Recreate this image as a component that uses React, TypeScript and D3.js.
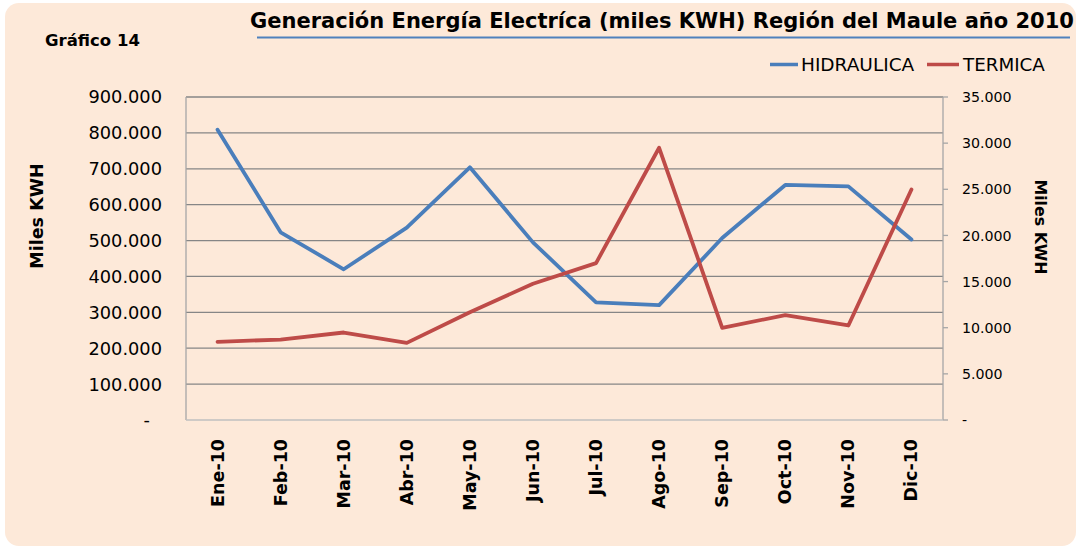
import React from "react";
import * as d3 from "d3";

const months = ["Ene-10","Feb-10","Mar-10","Abr-10","May-10","Jun-10","Jul-10","Ago-10","Sep-10","Oct-10","Nov-10","Dic-10"];
const hidraulica = [809000, 523000, 420000, 536000, 704000, 495000, 328000, 320000, 507000, 655000, 651000, 503000];
const termica = [8470, 8720, 9480, 8360, 11680, 14760, 17000, 29500, 9990, 11360, 10240, 24980];
const leftTicks = [0, 100000, 200000, 300000, 400000, 500000, 600000, 700000, 800000, 900000];
const rightTicks = [0, 5000, 10000, 15000, 20000, 25000, 30000, 35000];
const seriesNames = ["HIDRAULICA", "TERMICA"];
const colors = ["#4A7EBB", "#BE4B48"];

const W = 1081, H = 548;
const M = { left: 186, right: 943, top: 97, bottom: 420 };
const FONT = "'DejaVu Sans', Verdana, sans-serif";

const fmt = (v: number) => (v === 0 ? "-" : d3.format(",")(v).replace(/,/g, "."));

export default function App() {
  const x = d3.scaleBand<string>().domain(months).range([M.left, M.right]);
  const yL = d3.scaleLinear().domain([0, 900000]).range([M.bottom, M.top]);
  const yR = d3.scaleLinear().domain([0, 35000]).range([M.bottom, M.top]);
  const cx = (m: string) => (x(m) as number) + x.bandwidth() / 2;
  const lineL = d3.line<number>().x((_, i) => cx(months[i])).y((d) => yL(d));
  const lineR = d3.line<number>().x((_, i) => cx(months[i])).y((d) => yR(d));

  return (
    <svg width={W} height={H} style={{ position: "absolute", left: 0, top: 0 }} fontFamily={FONT}>
      <rect x={5} y={3} width={1071} height={543} rx={14} fill="#FDE9D9" />
      {/* title */}
      <text x={250} y={28} fontSize={21} fontWeight="bold" fill="#000">
        Generación Energía Electríca (miles KWH) Región del Maule año 2010
      </text>
      <line x1={257} x2={1070} y1={37.5} y2={37.5} stroke="#4F81BD" strokeWidth={2} />
      <text x={45} y={46} fontSize={16.5} fontWeight="bold" fill="#000">Gráfico 14</text>

      {/* legend */}
      <line x1={770} x2={798} y1={64.5} y2={64.5} stroke={colors[0]} strokeWidth={3.5} />
      <text x={801} y={71} fontSize={18.5} fill="#000">{seriesNames[0]}</text>
      <line x1={927} x2={959} y1={64.5} y2={64.5} stroke={colors[1]} strokeWidth={3.5} />
      <text x={963} y={71} fontSize={18.3} fill="#000">{seriesNames[1]}</text>

      {/* gridlines */}
      {leftTicks.filter((t) => t > 0).map((t) => (
        <line key={t} x1={M.left} x2={M.right} y1={yL(t)} y2={yL(t)} stroke="#868686" strokeWidth={1.3} />
      ))}
      {/* axes */}
      <line x1={M.left} x2={M.left} y1={M.top} y2={M.bottom} stroke="#A6A6A6" strokeWidth={1.3} />
      <line x1={M.right} x2={M.right} y1={M.top} y2={M.bottom} stroke="#A6A6A6" strokeWidth={1.3} />
      <line x1={M.left} x2={M.right} y1={M.bottom} y2={M.bottom} stroke="#BFBFBF" strokeWidth={1.3} />
      {rightTicks.map((t) => (
        <line key={t} x1={M.right} x2={M.right + 5} y1={yR(t)} y2={yR(t)} stroke="#A6A6A6" strokeWidth={1.3} />
      ))}

      {/* left tick labels */}
      {leftTicks.map((t) => (
        <text key={t} x={t === 0 ? 150 : 162} y={yL(t)} dy="0.36em" textAnchor="end" fontSize={17.8} fill="#000">
          {fmt(t)}
        </text>
      ))}
      {/* right tick labels */}
      {rightTicks.map((t) => (
        <text key={t} x={962} y={yR(t)} dy="0.36em" textAnchor="start" fontSize={14.2} fill="#000">
          {fmt(t)}
        </text>
      ))}

      {/* axis titles */}
      <text transform={`translate(37,216) rotate(-90)`} textAnchor="middle" dominantBaseline="central" fontSize={17.5} fontWeight="bold" fill="#000">
        Miles KWH
      </text>
      <text transform={`translate(1040,227) rotate(90)`} textAnchor="middle" dominantBaseline="central" fontSize={15.8} fontWeight="bold" fill="#000">
        Miles KWH
      </text>

      {/* x labels */}
      {months.map((m) => (
        <text key={m} transform={`translate(${cx(m)},439) rotate(-90)`} textAnchor="end" dominantBaseline="central" fontSize={17.5} fontWeight="bold" fill="#000">
          {m}
        </text>
      ))}

      {/* lines */}
      <path d={lineL(hidraulica) as string} fill="none" stroke={colors[0]} strokeWidth={3.8} strokeLinejoin="round" strokeLinecap="round" />
      <path d={lineR(termica) as string} fill="none" stroke={colors[1]} strokeWidth={3.8} strokeLinejoin="round" strokeLinecap="round" />
    </svg>
  );
}
